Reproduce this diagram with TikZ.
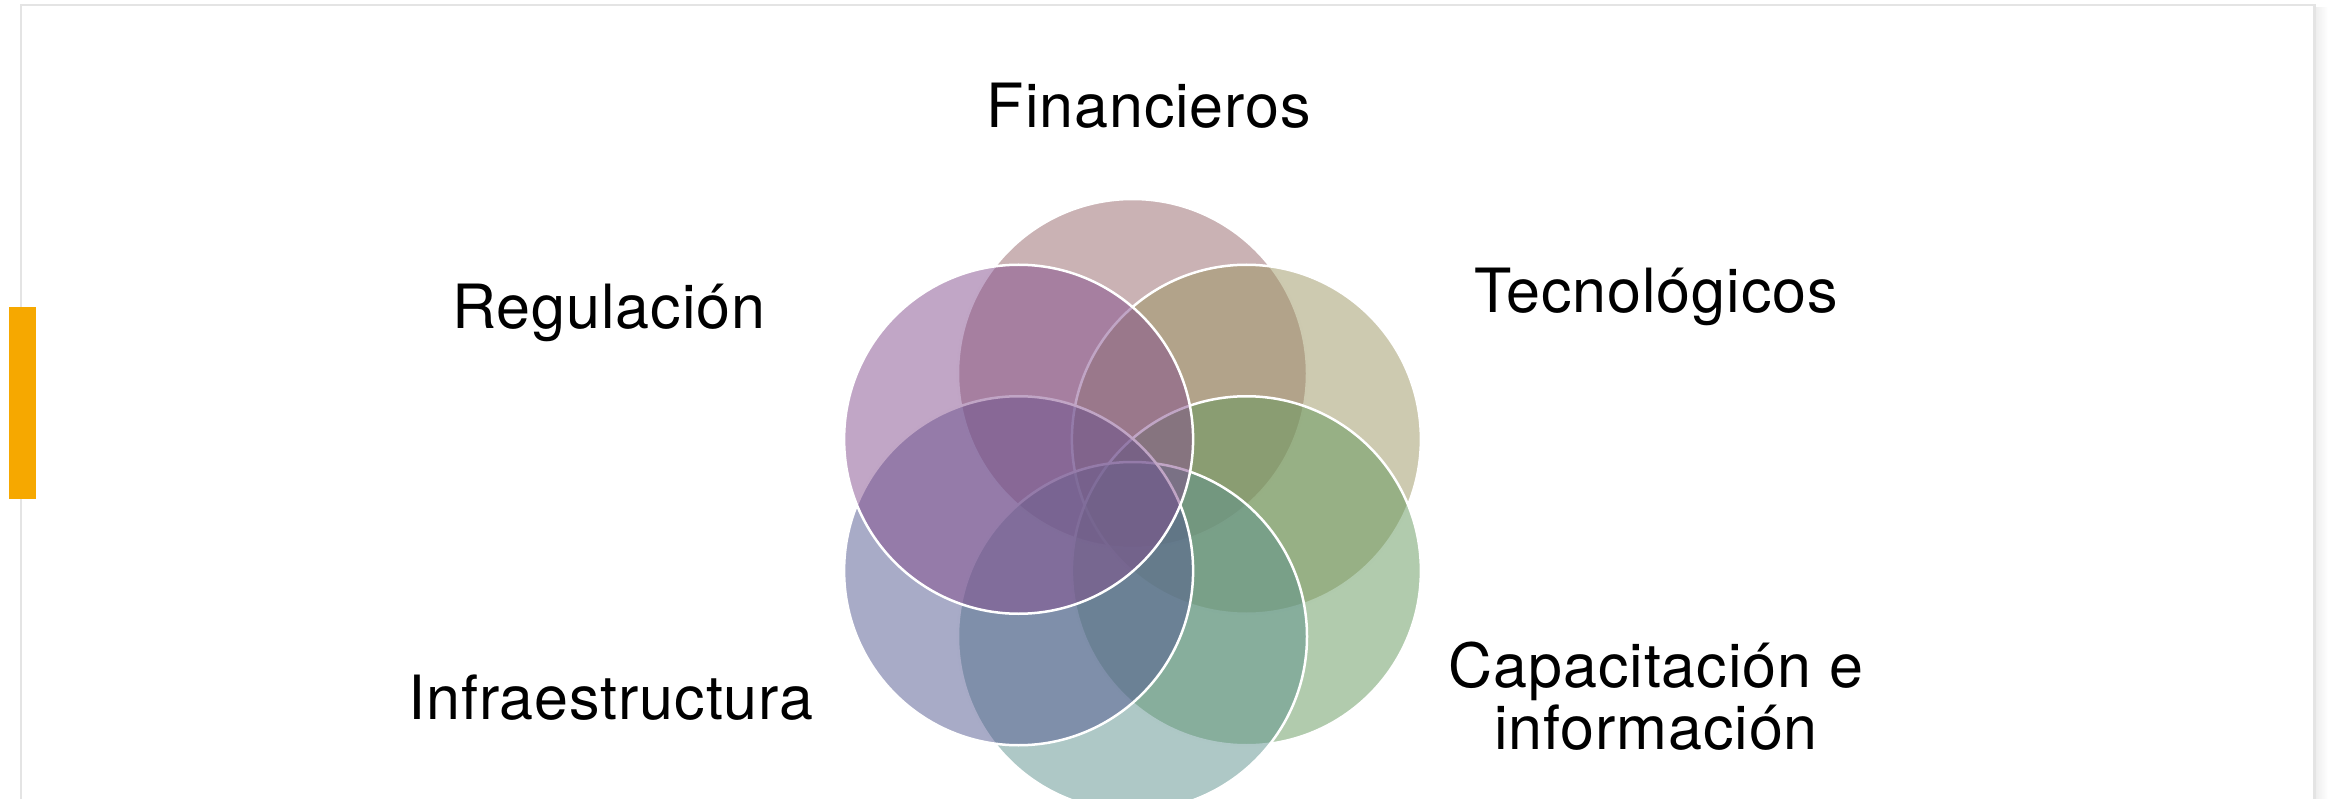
\documentclass[tikz,border=0pt]{standalone}
\usepackage{fontspec}
\setmainfont[LetterSpace=1.5]{TeX Gyre Heros}
\definecolor{cFin}{RGB}{149,101,105}
\definecolor{cTec}{RGB}{155,149,97}
\definecolor{cCap}{RGB}{99,151,91}
\definecolor{cBot}{RGB}{93,145,141}
\definecolor{cInf}{RGB}{81,87,143}
\definecolor{cReg}{RGB}{131,77,141}
\definecolor{frameGrey}{RGB}{228,228,228}
\definecolor{barOrange}{RGB}{246,168,0}
\begin{document}
\begin{tikzpicture}[x=1pt,y=-1pt,
  venn/.style={circle, draw=white, line width=2.5pt, fill opacity=0.5,
    minimum size=349pt, inner sep=0pt, outer sep=0pt},
  lbl/.style={font=\fontsize{61}{62}\selectfont, anchor=base, inner sep=0pt,
    text=black, align=center},
  frameline/.style={draw=frameGrey, line width=2.5pt}]
\useasboundingbox (0,0) rectangle (2332,799);
% page frame and shadow
\shade[left color=black!7, right color=white] (2315,8) rectangle (2328,799);
\draw[frameline] (21,800) -- (21,5) -- (2314.5,5) -- (2314.5,800);
% accent bar
\fill[barOrange] (9,307) rectangle (35.7,498.7);
% circles
\node[venn, fill=cFin] (fin) at (1132.5,373.5) {};
\node[venn, fill=cTec] (tec) at (1246.4,439.25) {};
\node[venn, fill=cCap] (cap) at (1246.4,570.75) {};
\node[venn, fill=cBot] (bot) at (1132.5,636.5) {};
\node[venn, fill=cInf] (inf) at (1018.6,570.75) {};
\node[venn, fill=cReg] (reg) at (1018.6,439.25) {};
% labels
\node[lbl] (tfin) at (1149,127.7) {Financieros};
\node[lbl] (treg) at (609,329) {Regulación};
\node[lbl] (ttec) at (1656,313) {Tecnológicos};
\node[lbl] (tinf) at (611,719) {Infraestructura};
\node[lbl] (tcap) at (1656,749) {Capacitación e\\información};
\end{tikzpicture}
\end{document}
